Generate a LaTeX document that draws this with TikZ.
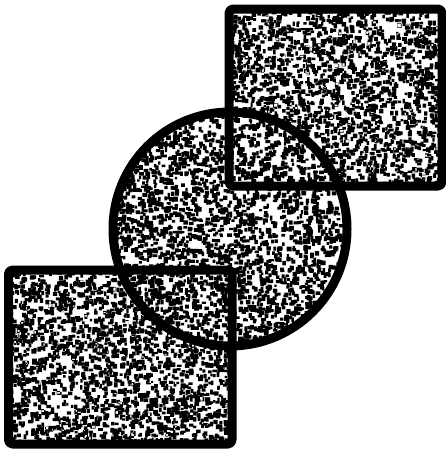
\documentclass[tikz,border=0pt]{standalone}
\begin{document}
\begin{tikzpicture}[x=1pt,y=-1pt,
  outline/.style={line width=9pt,draw=black,line join=round},
  stipple/.style={fill=black}]
\useasboundingbox (0,0) rectangle (446,458);
\fill[white] (0,0) rectangle (446,458);
\pgfmathsetseed{4242}
% coordinates of the shapes
\coordinate (tsA) at (229,9);
\coordinate (tsB) at (442,186);
\coordinate (cc) at (230,229);
\coordinate (bsA) at (8.5,270);
\coordinate (bsB) at (232,444);
% circle texture
\begin{scope}
  \clip (cc) circle (117);
  \foreach \j in {1,...,11} {
    \fill[stipple] \foreach \i in {1,...,300} { ({110+237*rnd},{109+237*rnd}) rectangle ++({2.2+2.8*rnd},{2.2+2.8*rnd}) };
  }
\end{scope}
% top square texture (outside circle)
\begin{scope}
  \clip (tsA) rectangle (tsB);
  \begin{scope}[even odd rule]
  \clip (tsA) rectangle (tsB) (cc) circle (117);
  \foreach \j in {1,...,8} {
    \fill[stipple] \foreach \i in {1,...,300} { ({226+216*rnd},{6+180*rnd}) rectangle ++({2.2+2.8*rnd},{2.2+2.8*rnd}) };
  }
  \end{scope}
\end{scope}
% bottom square texture (outside circle)
\begin{scope}
  \clip (bsA) rectangle (bsB);
  \begin{scope}[even odd rule]
  \clip (bsA) rectangle (bsB) (cc) circle (117);
  \foreach \j in {1,...,8} {
    \fill[stipple] \foreach \i in {1,...,300} { ({5.5+227*rnd},{267+177*rnd}) rectangle ++({2.2+2.8*rnd},{2.2+2.8*rnd}) };
  }
  \end{scope}
\end{scope}
% outlines
\draw[outline,rounded corners=4pt] (tsA) rectangle (tsB);
\draw[outline,rounded corners=4pt] (bsA) rectangle (bsB);
\draw[outline] (cc) circle (117);
\end{tikzpicture}
\end{document}
